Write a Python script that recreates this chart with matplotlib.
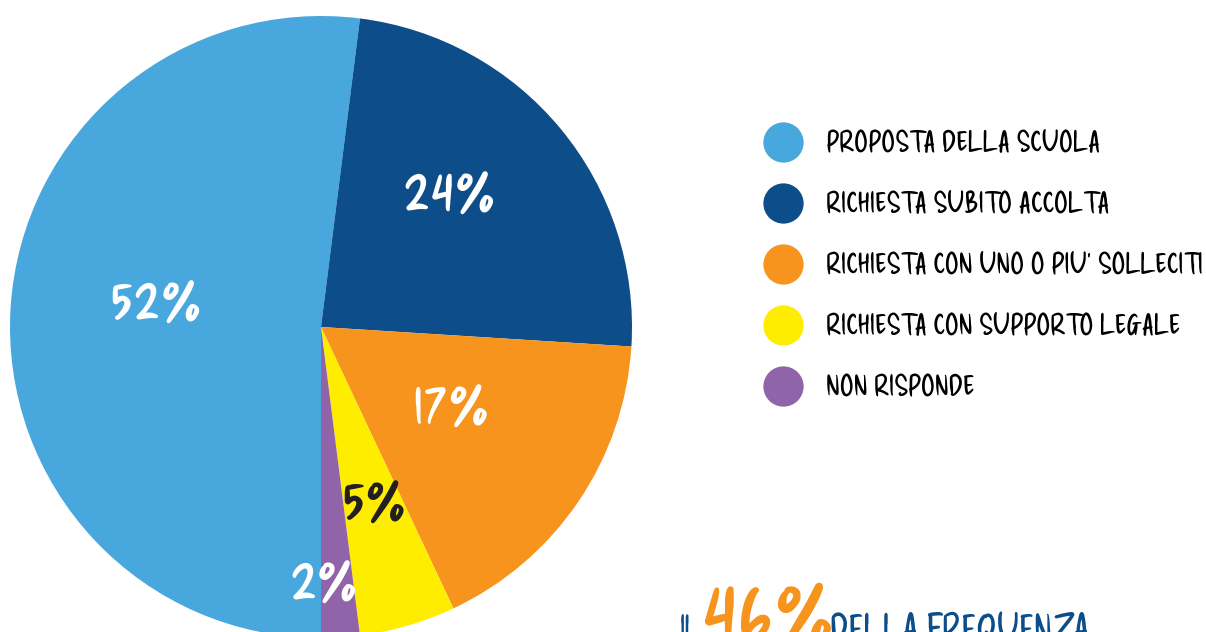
import numpy as np
import matplotlib
matplotlib.use('Agg')
from matplotlib import pyplot as plt
from matplotlib.lines import Line2D

# data
labels = ['PROPOSTA DELLA SCUOLA', 'RICHIESTA SUBITO ACCOLTA',
          "RICHIESTA CON UNO O PIU' SOLLECITI", 'RICHIESTA CON SUPPORTO LEGALE',
          'NON RISPONDE']
values = [52, 24, 17, 5, 2]
colors = ['#48A7DC', '#0D4E8A', '#F7941E', '#FFED00', '#9163A9']
pct_colors = ['white', 'white', 'white', '#231F20', 'white']
# label placement: fraction of radius, and turn (deg) off the wedge middle
pct_dist = [0.54, 0.61, 0.48, 0.57, 0.80]
pct_turn = [-7, 8, 5, 1, -3]

W, H = 1206, 632
FONT = ['Delicious Handrawn', 'DejaVu Sans']

fig = plt.figure(figsize=(W / 100, H / 100), dpi=100)
ax = fig.add_axes([0, 0, 1, 1])

# pie in pixel units (y measured up from bottom)
cx, cy, R = 321, H - 327, 311
wedges, _ = ax.pie(values, colors=colors, startangle=270, counterclock=False,
                   center=(cx, cy), radius=R, frame=True,
                   wedgeprops=dict(linewidth=0))
ax.set_xlim(0, W)
ax.set_ylim(0, H)
ax.set_aspect('equal')
ax.axis('off')

for w, v, c, d, t in zip(wedges, values, pct_colors, pct_dist, pct_turn):
    ang = np.deg2rad((w.theta1 + w.theta2) / 2 + t)
    ax.text(cx + d * R * np.cos(ang), cy + d * R * np.sin(ang), '%d%%' % v,
            color=c, fontsize=50, family=FONT, ha='center', va='center_baseline')

# legend
handles = [Line2D([], [], marker='o', ls='', ms=29, mfc=c, mec='none') for c in colors]
leg = ax.legend(handles, labels, loc='upper left', bbox_to_anchor=(763 / W, 1 - 132 / H),
                frameon=False, labelspacing=1.05, handletextpad=0.77,
                handlelength=1.4, borderaxespad=0, borderpad=0,
                prop=dict(family=FONT, size=21))

# bottom caption (cut by the frame, as in the original)
ax.text(680, H - 616, 'IL', color='#0D4E8A', fontsize=22,
        family=FONT, ha='left', va='top')
ax.text(700, H - 570, '46%', color='#F7941E', fontsize=74,
        family=FONT, ha='left', va='top')
ax.text(830, H - 616, 'DELLA FREQUENZA', color='#0D4E8A', fontsize=27,
        family=FONT, ha='left', va='top')

fig.savefig('out.png', dpi=100)
